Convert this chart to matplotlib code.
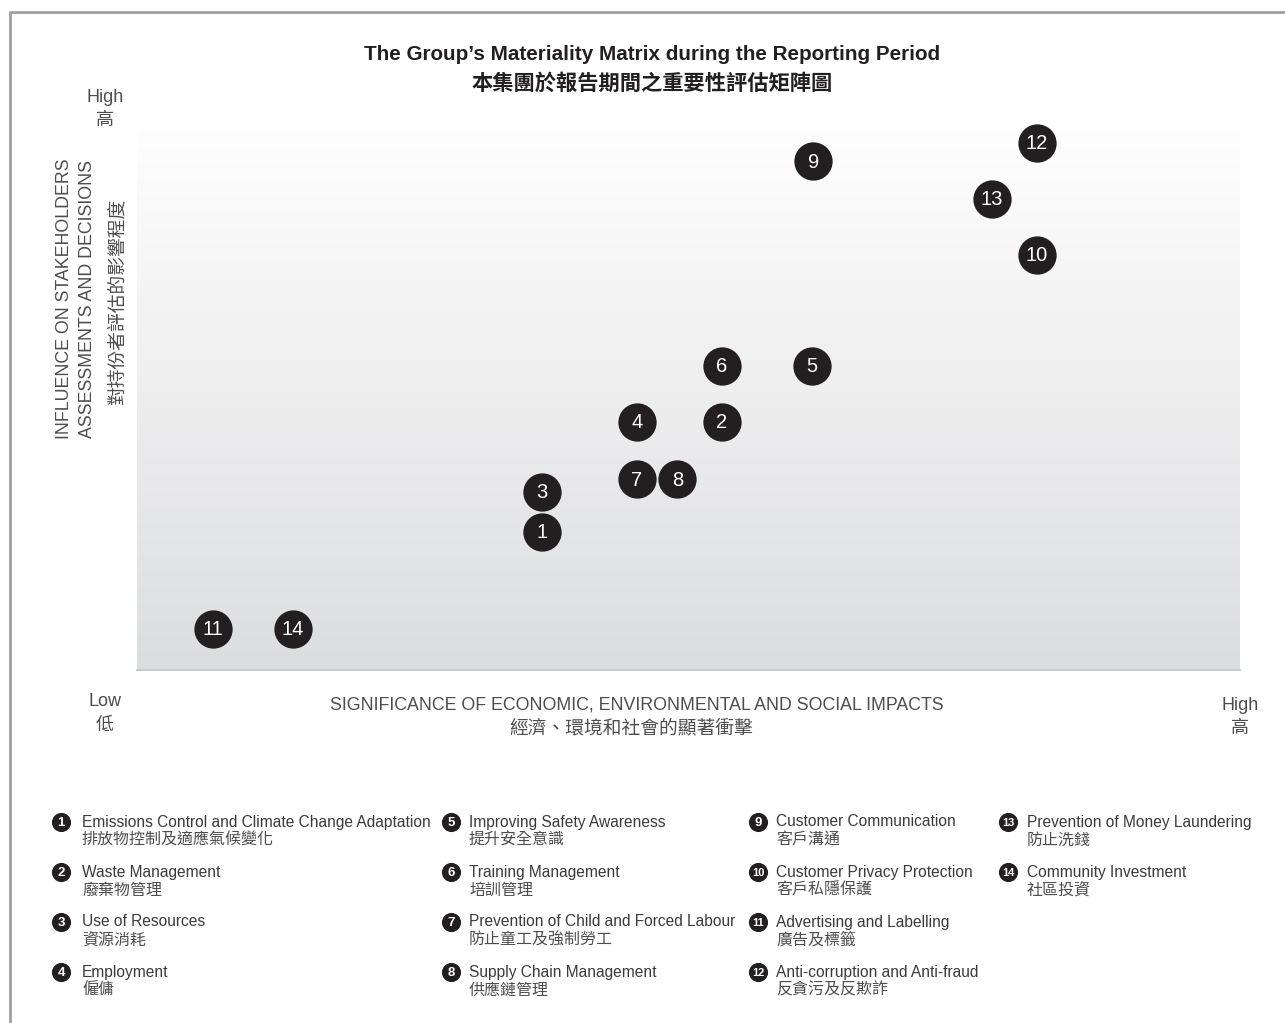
import matplotlib
matplotlib.use("Agg")
import matplotlib.pyplot as plt
import numpy as np
from matplotlib.colors import LinearSegmentedColormap

W, H = 1285, 1023
FONT = ['Liberation Sans', 'Noto Sans CJK TC', 'DejaVu Sans']
CJK = ['Noto Sans CJK TC', 'Liberation Sans']
plt.rcParams['font.family'] = FONT

# ---------------- data ----------------
issue_ids = [1, 2, 3, 4, 5, 6, 7, 8, 9, 10, 11, 12, 13, 14]
significance = [3.67, 5.30, 3.67, 4.53, 6.12, 5.30, 4.53, 4.90, 6.13, 8.16, 0.69, 8.16, 7.75, 1.41]
influence = [2.49, 4.47, 3.21, 4.47, 5.48, 5.48, 3.44, 3.44, 9.17, 7.48, 0.74, 9.50, 8.49, 0.74]

labels_en = [
    "Emissions Control and Climate Change Adaptation",
    "Waste Management",
    "Use of Resources",
    "Employment",
    "Improving Safety Awareness",
    "Training Management",
    "Prevention of Child and Forced Labour",
    "Supply Chain Management",
    "Customer Communication",
    "Customer Privacy Protection",
    "Advertising and Labelling",
    "Anti-corruption and Anti-fraud",
    "Prevention of Money Laundering",
    "Community Investment",
]
labels_zh = [
    "排放物控制及適應氣候變化",
    "廢棄物管理",
    "資源消耗",
    "僱傭",
    "提升安全意識",
    "培訓管理",
    "防止童工及強制勞工",
    "供應鏈管理",
    "客戶溝通",
    "客戶私隱保護",
    "廣告及標籤",
    "反貪污及反欺詐",
    "防止洗錢",
    "社區投資",
]

title_en = "The Group\u2019s Materiality Matrix during the Reporting Period"
title_zh = "本集團於報告期間之重要性評估矩陣圖"
xlabel_en = "SIGNIFICANCE OF ECONOMIC, ENVIRONMENTAL AND SOCIAL IMPACTS"
xlabel_zh = "經濟、環境和社會的顯著衝擊"
ylabel_en = "INFLUENCE ON STAKEHOLDERS\nASSESSMENTS AND DECISIONS"
ylabel_zh = "對持份者評估的影響程度"

# ---------------- figure ----------------
fig = plt.figure(figsize=(W / 100, H / 100), dpi=100)
fig.patch.set_facecolor('white')

def fx(px):
    return px / W

def fy(py):
    return 1 - py / H

# main matrix axes
ax = fig.add_axes([fx(137), fy(670), (1240 - 137) / W, (670 - 115) / H])
ax.set_xlim(0, 10)
ax.set_ylim(0, 10)
grad = np.linspace(1, 0, 256).reshape(-1, 1)
cmap = LinearSegmentedColormap.from_list('g', ['#dcdddf', '#ffffff'])
ax.imshow(grad, extent=[0, 10, 0, 10], aspect='auto', cmap=cmap, zorder=0,
          origin='upper', vmin=0, vmax=1)
for s in ['top', 'left', 'right']:
    ax.spines[s].set_visible(False)
ax.spines['bottom'].set_color('#c9cacc')
ax.spines['bottom'].set_linewidth(1.5)
ax.set_xticks([])
ax.set_yticks([])

ax.scatter(significance, influence, s=760, color='#231f20', zorder=3, linewidths=0)
for i, x, y in zip(issue_ids, significance, influence):
    ax.annotate(str(i), (x, y), xytext=(0, -1), textcoords='offset pixels',
                color='white', fontsize=14.5, ha='center', va='center',
                zorder=4, fontweight='medium')

# titles
fig.text(fx(652), fy(55), title_en, ha='center', va='center', fontsize=14.9,
         fontweight='bold', color='#231f20')
fig.text(fx(652), fy(83), title_zh, ha='center', va='center', fontsize=15.3,
         fontweight='bold', color='#231f20', family=CJK)

grey = '#4d4d4f'
# axis end labels
fig.text(fx(105), fy(97), "High", ha='center', va='center', fontsize=13, color=grey)
fig.text(fx(105), fy(120), "高", ha='center', va='center', fontsize=13, color=grey, family=CJK)
fig.text(fx(105), fy(702), "Low", ha='center', va='center', fontsize=13, color=grey)
fig.text(fx(105), fy(725), "低", ha='center', va='center', fontsize=13, color=grey, family=CJK)
fig.text(fx(1240), fy(705), "High", ha='center', va='center', fontsize=13, color=grey)
fig.text(fx(1240), fy(728), "高", ha='center', va='center', fontsize=13, color=grey, family=CJK)

# x axis label
fig.text(fx(637), fy(705), xlabel_en, ha='center', va='center', fontsize=12.8, color=grey)
fig.text(fx(631), fy(728), xlabel_zh, ha='center', va='center', fontsize=13.5, color=grey, family=CJK)

# y axis label
fig.text(fx(76), fy(299), ylabel_en, ha='center', va='center', fontsize=12.8, color=grey,
         rotation=90, linespacing=1.45)
fig.text(fx(117), fy(302), ylabel_zh, ha='center', va='center', fontsize=13.5, color=grey,
         rotation=90, family=CJK)

# overlay axes in pixel coordinates for legend & frame
ov = fig.add_axes([0, 0, 1, 1], zorder=5)
ov.set_xlim(0, W)
ov.set_ylim(H, 0)
ov.axis('off')
ov.patch.set_alpha(0)
ov.plot([10, 10, W + 5], [H + 5, 12, 12], color='#a0a0a0', lw=2, solid_capstyle='butt')

col_icon_x = [61, 451, 758, 1008]
col_text_x = [82, 469, 776, 1027]
row_y = [822, 872, 922, 972]
for k, (num, en, zh) in enumerate(zip(issue_ids, labels_en, labels_zh)):
    c, r = divmod(k, 4)
    if c == 3:
        r = k - 12
    cx = col_icon_x[c]
    cy = row_y[r]
    ov.scatter([cx], [cy], s=190, color='#231f20', linewidths=0, zorder=6)
    ov.text(cx, cy + 0.5, str(num), color='white', fontsize=9.5 if num < 10 else 8,
            fontweight='bold', ha='center', va='center', zorder=7)
    ov.text(col_text_x[c], cy, en, fontsize=11.2, color='#3a3a3c', ha='left', va='center', zorder=7)
    ov.text(col_text_x[c], cy + 18, zh, fontsize=11.5, color='#4d4d4f', ha='left', va='center',
            family=CJK, zorder=7)

fig.savefig('out.png', dpi=100, facecolor='white')
